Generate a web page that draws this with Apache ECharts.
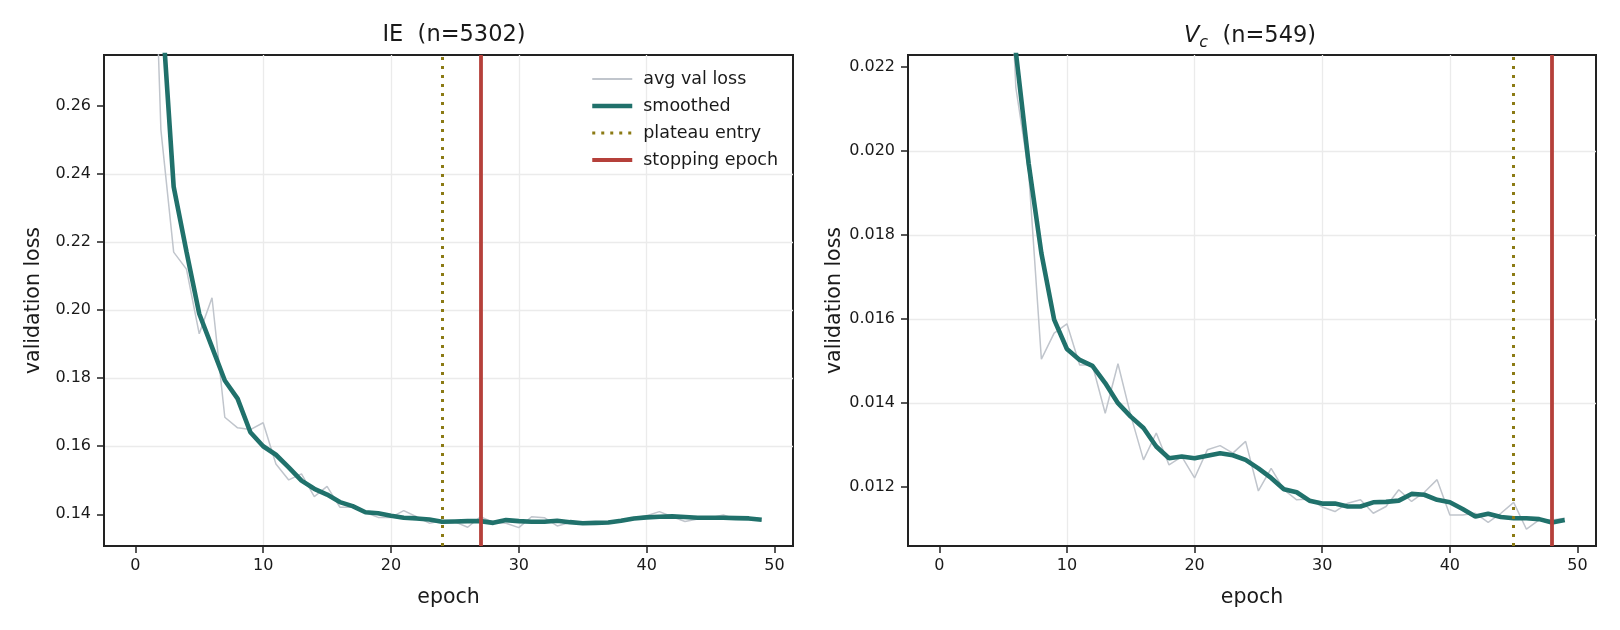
<!DOCTYPE html>
<html>
<head>
<meta charset="utf-8">
<script src="https://cdn.jsdelivr.net/npm/echarts@6/dist/echarts.min.js"></script>
<style>
  html, body { margin: 0; padding: 0; background: #ffffff; }
  #chart { width: 1620px; height: 630px; }
</style>
</head>
<body>
<div id="chart"></div>
<script>
// epoch index 0..49
const epochs = Array.from({ length: 50 }, (_, i) => i);

// IE (n=5302)
const ieRaw = [0.62, 0.37, 0.253, 0.217, 0.212, 0.193, 0.2036, 0.1685, 0.1654, 0.1649,
  0.1669, 0.1548, 0.1501, 0.1519, 0.1452, 0.1482, 0.1421, 0.1421, 0.1405, 0.1391,
  0.1391, 0.1411, 0.1393, 0.1374, 0.1381, 0.1378, 0.1362, 0.1393, 0.1376, 0.1374,
  0.1361, 0.1393, 0.139, 0.1366, 0.1376, 0.1374, 0.1378, 0.1375, 0.1384, 0.1389,
  0.1396, 0.1408, 0.1393, 0.1379, 0.1386, 0.139, 0.1398, 0.1386, 0.1391, 0.1381];
const ieSmooth = [0.62, 0.41, 0.293, 0.2362, 0.2172, 0.1989, 0.1891, 0.1793, 0.174, 0.1641,
  0.160, 0.1575, 0.1538, 0.1499, 0.1475, 0.1458, 0.1436, 0.1424, 0.1406, 0.1403,
  0.1396, 0.139, 0.1388, 0.1385, 0.1378, 0.1379, 0.138, 0.138, 0.1375, 0.1383,
  0.138, 0.1378, 0.1378, 0.1381, 0.1377, 0.1374, 0.1375, 0.1376, 0.1381, 0.1388,
  0.1391, 0.1393, 0.1394, 0.1392, 0.139, 0.139, 0.139, 0.1389, 0.1388, 0.1384];
const iePlateau = 24;
const ieStop = 27;

// Vc (n=549)
const vcRaw = [0.085, 0.055, 0.042, 0.034, 0.031, 0.028, 0.0215, 0.0195, 0.01504, 0.01566,
  0.01588, 0.0149, 0.0149, 0.01375, 0.01493, 0.0137, 0.01264, 0.01328, 0.01252, 0.01272,
  0.01221, 0.01288, 0.01298, 0.0128, 0.01308, 0.0119, 0.01244, 0.01193, 0.01169, 0.01171,
  0.01152, 0.01141, 0.01161, 0.01169, 0.01137, 0.01153, 0.01193, 0.01165, 0.01187, 0.01217,
  0.01133, 0.01133, 0.01137, 0.01115, 0.01137, 0.01163, 0.01099, 0.01121, 0.01121, 0.01125];
const vcSmooth = [0.09, 0.06, 0.045, 0.036, 0.031, 0.0268, 0.02235, 0.0197, 0.01756, 0.01598,
  0.01528, 0.01502, 0.01488, 0.01447, 0.01399, 0.01367, 0.0134, 0.01296, 0.01268, 0.01272,
  0.01268, 0.01274, 0.0128, 0.01275, 0.01264, 0.01244, 0.01221, 0.01194, 0.01187, 0.01167,
  0.0116, 0.0116, 0.01153, 0.01153, 0.01163, 0.01164, 0.01167, 0.01183, 0.01181, 0.01169,
  0.01163, 0.01147, 0.01129, 0.01136, 0.01128, 0.01125, 0.01125, 0.01123, 0.01115, 0.01121];
const vcPlateau = 45;
const vcStop = 48;

const xTicks = [0, 10, 20, 30, 40, 50];
const ieTicks = [0.14, 0.16, 0.18, 0.20, 0.22, 0.24, 0.26];
const vcTicks = [0.012, 0.014, 0.016, 0.018, 0.020, 0.022];

const FONT = 'DejaVu Sans';
const INK = '#1a1a1a';
const RAW_C = '#c0c5cc';
const SMOOTH_C = '#20716b';
const PLATEAU_C = '#8b7a14';
const STOP_C = '#b5403a';

function xAxisFor(gridIndex) {
  return {
    type: 'value', gridIndex: gridIndex,
    min: -2.45, max: 51.45, splitNumber: 5,
    name: 'epoch', nameLocation: 'middle', nameGap: 41,
    nameTextStyle: { fontFamily: FONT, fontSize: 20.5, color: INK },
    axisLine: { show: true, onZero: false, lineStyle: { color: '#222', width: 2 } },
    axisTick: { show: true, customValues: xTicks, length: 7, lineStyle: { color: '#222', width: 1.5 } },
    axisLabel: { customValues: xTicks, fontFamily: FONT, fontSize: 16, color: INK, margin: 12 },
    splitLine: { show: true, showMinLine: false, showMaxLine: false, lineStyle: { color: '#ebebeb', width: 1.3 } }
  };
}

function yAxisFor(gridIndex, min, max, splitNumber, ticks, digits) {
  return {
    type: 'value', gridIndex: gridIndex,
    min: min, max: max, splitNumber: splitNumber,
    name: 'validation loss', nameLocation: 'middle', nameGap: 60,
    nameTextStyle: { fontFamily: FONT, fontSize: 20.5, color: INK },
    axisLine: { show: true, onZero: false, lineStyle: { color: '#222', width: 2 } },
    axisTick: { show: true, customValues: ticks, length: 7, lineStyle: { color: '#222', width: 1.5 } },
    axisLabel: {
      customValues: ticks, fontFamily: FONT, fontSize: 16, color: INK, margin: 13,
      formatter: function (v) { return v.toFixed(digits); }
    },
    splitLine: { show: true, showMinLine: false, showMaxLine: false, lineStyle: { color: '#ebebeb', width: 1.3 } }
  };
}

function pairs(values) {
  return epochs.map(function (e, i) { return [e, values[i]]; });
}

function seriesFor(idx, raw, smooth, plateau, stop) {
  return [{
    name: 'avg val loss', type: 'line', xAxisIndex: idx, yAxisIndex: idx,
    data: pairs(raw), symbol: 'none', silent: true,
    lineStyle: { color: RAW_C, width: 1.5 }, itemStyle: { color: RAW_C }
  }, {
    name: 'smoothed', type: 'line', xAxisIndex: idx, yAxisIndex: idx,
    data: pairs(smooth), symbol: 'none', silent: true,
    lineStyle: { color: SMOOTH_C, width: 4.6 }, itemStyle: { color: SMOOTH_C }
  }, {
    name: 'plateau entry', type: 'line', xAxisIndex: idx, yAxisIndex: idx,
    data: [], symbol: 'none', silent: true,
    lineStyle: { color: PLATEAU_C, width: 3, type: [3, 6] }, itemStyle: { color: PLATEAU_C },
    markLine: {
      silent: true, symbol: ['none', 'none'], label: { show: false },
      lineStyle: { color: PLATEAU_C, width: 3, type: [3, 6] },
      data: [{ xAxis: plateau }]
    }
  }, {
    name: 'stopping epoch', type: 'line', xAxisIndex: idx, yAxisIndex: idx,
    data: [], symbol: 'none', silent: true,
    lineStyle: { color: STOP_C, width: 3.8 }, itemStyle: { color: STOP_C },
    markLine: {
      silent: true, symbol: ['none', 'none'], label: { show: false },
      lineStyle: { color: STOP_C, width: 3.8, type: 'solid' },
      data: [{ xAxis: stop }]
    }
  }];
}

const chart = echarts.init(document.getElementById('chart'), null, { renderer: 'canvas' });

var noMark = { opacity: 0, borderWidth: 0 };

var option = {
  backgroundColor: '#ffffff',
  animation: false,
  title: [{
    text: 'IE  (n=5302)', left: 449, top: 19, textAlign: 'center',
    textStyle: { fontFamily: FONT, fontSize: 22.5, fontWeight: 'normal', color: INK }
  }, {
    text: '{v|V}{c|c}{n|  (n=549)}', left: 1245, top: 16, textAlign: 'center',
    textStyle: {
      fontFamily: FONT, fontSize: 22.5, fontWeight: 'normal', color: INK,
      rich: {
        v: { fontFamily: FONT, fontSize: 22.5, fontStyle: 'italic', color: INK, lineHeight: 30 },
        c: { fontFamily: FONT, fontSize: 16, fontStyle: 'italic', color: INK, verticalAlign: 'bottom', lineHeight: 16 },
        n: { fontFamily: FONT, fontSize: 22.5, color: INK, lineHeight: 30 }
      }
    }
  }],
  legend: {
    orient: 'vertical', left: 585, top: 65,
    itemWidth: 40, itemHeight: 14, itemGap: 9,
    selectedMode: false,
    itemStyle: noMark,
    textStyle: { fontFamily: FONT, fontSize: 17.5, color: INK, padding: [0, 0, 0, 6] },
    data: [
      { name: 'avg val loss', itemStyle: noMark, lineStyle: { color: RAW_C, width: 2 } },
      { name: 'smoothed', itemStyle: noMark, lineStyle: { color: SMOOTH_C, width: 4.5 } },
      { name: 'plateau entry', itemStyle: noMark, lineStyle: { color: PLATEAU_C, width: 3, type: [3, 6] } },
      { name: 'stopping epoch', itemStyle: noMark, lineStyle: { color: STOP_C, width: 4 } }
    ]
  },
  grid: [
    { left: 104, top: 55, width: 689, height: 491, show: true, borderColor: '#222', borderWidth: 2, containLabel: false },
    { left: 908, top: 55, width: 688, height: 491, show: true, borderColor: '#222', borderWidth: 2, containLabel: false }
  ],
  xAxis: [xAxisFor(0), xAxisFor(1)],
  yAxis: [
    yAxisFor(0, 0.1307, 0.2749, 7, ieTicks, 2),
    yAxisFor(1, 0.01059, 0.02228, 6, vcTicks, 3)
  ],
  series: seriesFor(0, ieRaw, ieSmooth, iePlateau, ieStop)
    .concat(seriesFor(1, vcRaw, vcSmooth, vcPlateau, vcStop))
};

chart.setOption(option, true);
</script>
</body>
</html>
